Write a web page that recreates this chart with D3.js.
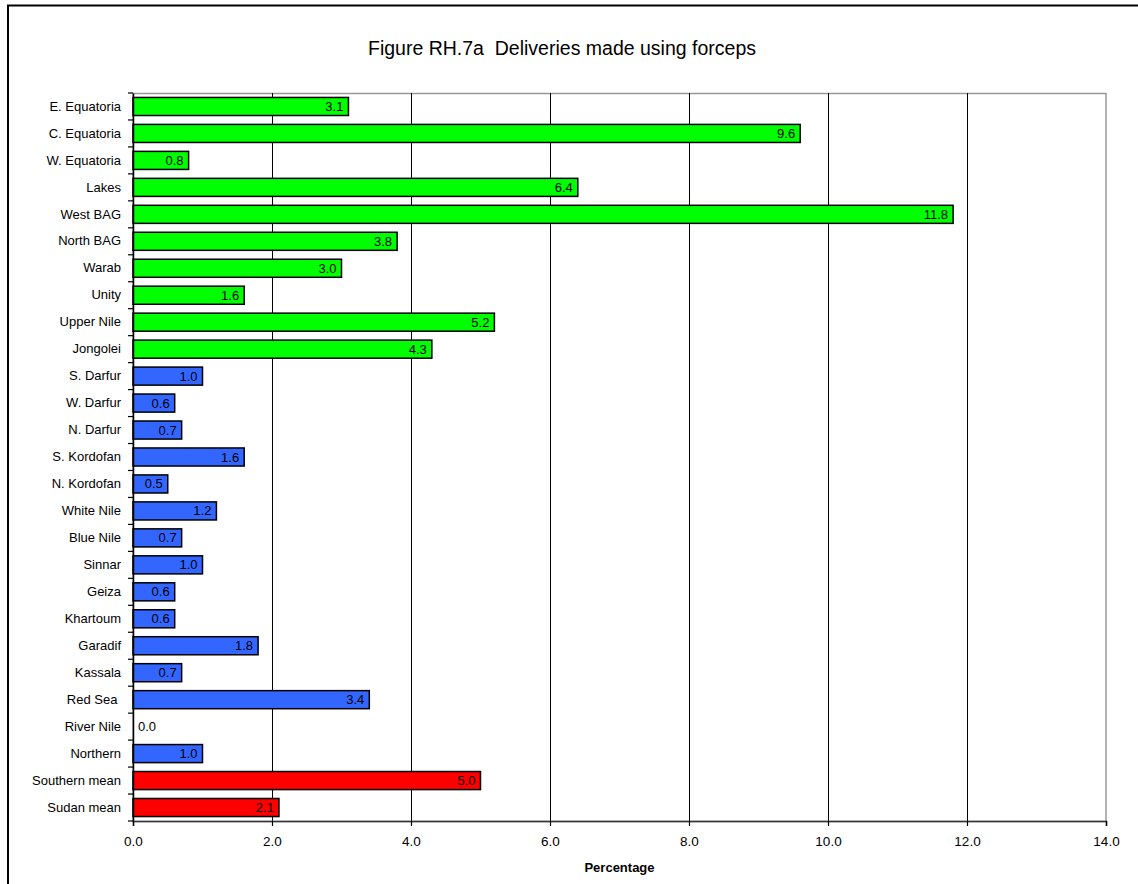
<!DOCTYPE html>
<html><head><meta charset="utf-8">
<script src="https://cdn.jsdelivr.net/npm/d3@7"></script>
<style>body{margin:0;background:#fff;} text{font-family:Arial,"Liberation Sans",sans-serif;}</style>
</head><body>
<svg id="c" width="1138" height="884"></svg>
<script>
const categories = ["E. Equatoria","C. Equatoria","W. Equatoria","Lakes","West BAG","North BAG","Warab","Unity","Upper Nile","Jongolei","S. Darfur","W. Darfur","N. Darfur","S. Kordofan","N. Kordofan","White Nile","Blue Nile","Sinnar","Geiza","Khartoum","Garadif","Kassala","Red Sea ","River Nile","Northern","Southern mean","Sudan mean"];
const values = [3.1,9.6,0.8,6.4,11.8,3.8,3.0,1.6,5.2,4.3,1.0,0.6,0.7,1.6,0.5,1.2,0.7,1.0,0.6,0.6,1.8,0.7,3.4,0.0,1.0,5.0,2.1];
const groups = ["south","south","south","south","south","south","south","south","south","south",
  "north","north","north","north","north","north","north","north","north","north","north","north","north","north","north",
  "mean","mean"];
const xTicks = [0,2,4,6,8,10,12,14];
const title = "Figure RH.7a\u00A0\u00A0Deliveries made using forceps";
const xTitle = "Percentage";
const colors = {south:"#00FF00", north:"#3366FF", mean:"#FF0000"};

const data = categories.map((c,i)=>({i, c, v: values[i], g: groups[i]}));

const svg = d3.select("#c");
svg.append("rect").attr("x",8).attr("y",5.5).attr("width",1200).attr("height",1000)
  .attr("fill","none").attr("stroke","#000").attr("stroke-width",2);

const L=133, R=1106, T=93, B=821;
const x = d3.scaleLinear().domain([0,14]).range([L,R]);
const y = d3.scaleBand().domain(d3.range(categories.length)).range([T,B]).paddingInner(0.33).paddingOuter(0.165);

svg.append("text").attr("x",562).attr("y",55).attr("text-anchor","middle").attr("font-size",19.5).text(title);

// plot border
svg.append("rect").attr("x",L).attr("y",T+0.5).attr("width",R-L).attr("height",B-T).attr("fill","none").attr("stroke","#999").attr("stroke-width",1.5);
// gridlines
svg.append("g").selectAll("line").data(xTicks.filter(d=>d>0&&d<14)).join("line")
  .attr("x1",d=>Math.round(x(d))+0.5).attr("x2",d=>Math.round(x(d))+0.5).attr("y1",T).attr("y2",B)
  .attr("stroke","#000").attr("stroke-width",1);

// bars
svg.append("g").selectAll("rect").data(data.filter(d=>d.v>0)).join("rect")
  .attr("x",x(0)).attr("y",d=>y(d.i))
  .attr("width",d=>x(d.v)-x(0)).attr("height",y.bandwidth())
  .attr("fill",d=>colors[d.g]).attr("stroke","#000").attr("stroke-width",1.5);

// value labels
svg.append("g").selectAll("text").data(data).join("text")
  .attr("x",d=> d.v>0 ? x(d.v)-5 : x(0)+5)
  .attr("y",d=>y(d.i)+y.bandwidth()/2+4.5)
  .attr("text-anchor",d=> d.v>0 ? "end":"start")
  .attr("font-size",13).attr("fill","#000")
  .text(d=>d.v.toFixed(1));

// y axis
const yAxis = d3.axisLeft(d3.scaleBand().domain(d3.range(categories.length)).range([T,B])).tickSize(0).tickPadding(12).tickFormat(i=>categories[i]);
const ya = svg.append("g").attr("transform",`translate(${L},0)`).call(yAxis);
ya.select(".domain").attr("stroke","#000").attr("stroke-width",1.5);
ya.selectAll("text").attr("font-size",13).attr("fill","#000").style("white-space","pre").style("font-family","Arial,'Liberation Sans',sans-serif");
// band boundary ticks
svg.append("g").selectAll("line").data(d3.range(categories.length+1)).join("line")
  .attr("x1",L-5).attr("x2",L).attr("y1",i=>T+i*(B-T)/categories.length).attr("y2",i=>T+i*(B-T)/categories.length)
  .attr("stroke","#000").attr("stroke-width",1.2);

// x axis
const xa = svg.append("g").attr("transform",`translate(0,${B})`).call(d3.axisBottom(x).tickValues(xTicks).tickSize(5).tickPadding(10).tickFormat(d3.format(".1f")));
xa.select(".domain").attr("stroke","#333").attr("stroke-width",1.5);
xa.selectAll("line").attr("stroke","#000").attr("stroke-width",1.2);
xa.selectAll("text").attr("font-size",13.5).attr("fill","#000").style("font-family","Arial,'Liberation Sans',sans-serif");

svg.append("text").attr("x",x(7)).attr("y",872).attr("text-anchor","middle").attr("font-size",13).attr("font-weight","bold").text(xTitle);
</script>
</body></html>
